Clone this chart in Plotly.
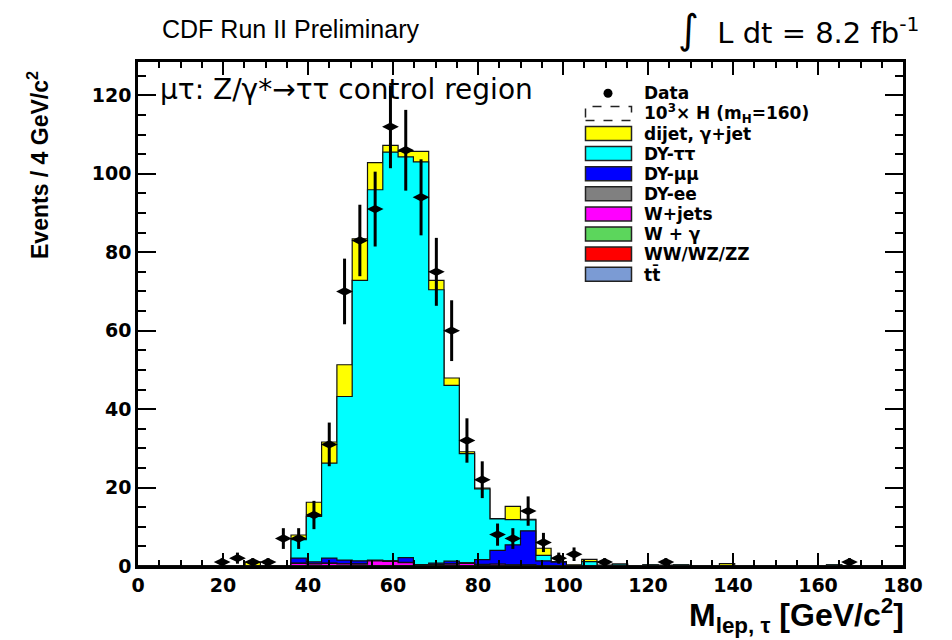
import numpy as np
import plotly.graph_objects as go

# ---------------- data (50 bins, 0-180 GeV) ----------------
n_bins = 50
x_min, x_max = 0.0, 180.0

data_obs = [0, 0, 0, 0, 0, 1, 2, 1, 1, 7,
            7, 13, 31, 70, 83, 91, 112, 106, 94, 75,
            60, 32, 22, 8, 7, 14, 6, 2, 3, 0,
            1, 0, 0, 0, 1, 0, 0, 0, 0, 0,
            0, 0, 0, 0, 0, 0, 1, 0, 0, 0]

dijet = [0, 0, 0, 0, 0, 0, 0, 1.0, 0, 0,
         1.2, 3.6, 5.4, 8.1, 10.6, 6.9, 1.7, 1.4, 2.7, 2.4,
         1.9, 0.5, 0.2, 0.1, 3.4, 0.1, 1.8, 0, 0.3, 0.6,
         0.2, 0, 0, 0, 0.2, 0, 0, 0, 0.6, 0,
         0.1, 0, 0, 0, 0, 0, 0, 0, 0, 0]

dy_tautau = [0, 0, 0, 0, 0, 0, 0, 0, 0, 0,
             4.7, 11.6, 24.2, 41.7, 71.5, 94.4, 104.2, 102.2, 102.7, 69.7,
             44.8, 27.8, 18.0, 8.0, 6.4, 2.8, 1.4, 0.1, 0, 1.1,
             0, 0.5, 0, 0.3, 0, 0.3, 0, 0, 0, 0,
             0, 0, 0, 0, 0, 0.3, 0, 0, 0, 0]

dy_mumu = [0, 0, 0, 0, 0, 0, 0, 0, 0, 0,
           1.3, 0.45, 1.3, 0.9, 0.8, 0.2, 0.1, 1.2, 0.1, 0.3,
           0.7, 0.1, 1.2, 3.5, 5.1, 8.7, 1.2, 1.0, 0, 0,
           0, 0, 0, 0, 0, 0, 0, 0, 0, 0,
           0, 0, 0, 0, 0, 0, 0, 0, 0, 0]

dy_ee = [0, 0, 0, 0, 0, 0, 0, 0, 0, 0,
         0.05, 0.05, 0.05, 0.05, 0.05, 0.05, 0.05, 0.05, 0.05, 0.05,
         0.05, 0.05, 0.05, 0.05, 0.05, 0.05, 0, 0, 0, 0,
         0, 0, 0, 0, 0, 0, 0, 0, 0, 0,
         0, 0, 0, 0, 0, 0, 0, 0, 0, 0]

w_jets = [0, 0, 0, 0, 0, 0, 0, 0, 0, 0,
          0.6, 0.5, 0.6, 0.5, 0.4, 1.2, 1.1, 0.8, 0.1, 0.3,
          0.4, 0.6, 0.3, 0.4, 0.2, 0.2, 0.1, 0, 0, 0,
          0, 0, 0, 0, 0, 0, 0, 0, 0, 0,
          0, 0, 0, 0, 0, 0, 0, 0, 0, 0]

w_gamma = [0, 0, 0, 0, 0, 0, 0, 0, 0, 0,
           0.03, 0.03, 0.03, 0.03, 0.03, 0.03, 0.03, 0.03, 0.03, 0.03,
           0.03, 0.03, 0.03, 0, 0, 0, 0, 0, 0, 0,
           0, 0, 0, 0, 0, 0, 0, 0, 0, 0,
           0, 0, 0, 0, 0, 0, 0, 0, 0, 0]

diboson = [0, 0, 0, 0, 0, 0, 0, 0, 0, 0,
           0.03, 0.03, 0.03, 0.03, 0.03, 0.03, 0.03, 0.03, 0.03, 0.03,
           0.03, 0.03, 0.03, 0.03, 0.03, 0.03, 0.03, 0, 0, 0,
           0, 0, 0, 0, 0, 0, 0, 0, 0, 0,
           0, 0, 0, 0, 0, 0, 0, 0, 0, 0]

ttbar = [0, 0, 0, 0, 0, 0, 0, 0, 0, 0,
         0, 0, 0, 0, 0.02, 0.02, 0.02, 0.02, 0.02, 0.02,
         0.02, 0.02, 0.02, 0.02, 0.02, 0, 0, 0, 0, 0,
         0, 0, 0, 0, 0, 0, 0, 0, 0, 0,
         0, 0, 0, 0, 0, 0, 0, 0, 0, 0]

# stack order: bottom -> top
stack_names = ["tt̄", "WW/WZ/ZZ", "W + γ", "W+jets", "DY-ee", "DY-μμ", "DY-ττ", "dijet, γ+jet"]
stack_vals = [ttbar, diboson, w_gamma, w_jets, dy_ee, dy_mumu, dy_tautau, dijet]
stack_colors = ["#7b9bd4", "#ff0000", "#5cd65c", "#ff00ff", "#808080", "#0000ff", "#00ffff", "#ffff00"]

legend_labels = ["Data", "10<sup>3</sup>× H (m<sub>H</sub>=160)", "dijet, γ+jet", "DY-ττ", "DY-μμ",
                 "DY-ee", "W+jets", "W + γ", "WW/WZ/ZZ", "tt̄"]
legend_colors = [None, "white", "#ffff00", "#00ffff", "#0000ff", "#808080", "#ff00ff",
                 "#5cd65c", "#ff0000", "#7b9bd4"]

x_ticks = [0, 20, 40, 60, 80, 100, 120, 140, 160, 180]
y_ticks = [0, 20, 40, 60, 80, 100, 120]

# ---------------- figure ----------------
W, H = 952, 640
L, R, T, B = 138, 903, 62, 566

edges = np.linspace(x_min, x_max, n_bins + 1)
centers = 0.5 * (edges[:-1] + edges[1:])
cum = np.cumsum(np.array(stack_vals, dtype=float), axis=0)

fig = go.Figure()
for i in range(len(stack_vals) - 1, -1, -1):
    yv = np.append(cum[i], cum[i][-1])
    fig.add_trace(go.Scatter(x=edges, y=yv, mode="lines", line=dict(shape="hv", color="#111111", width=1.2),
                             fill="tozeroy", fillcolor=stack_colors[i], hoverinfo="skip", showlegend=False))

d = np.array(data_obs, dtype=float)
mask = d > 0
fig.add_trace(go.Scatter(x=centers[mask], y=d[mask], mode="markers",
                         marker=dict(symbol="diamond-wide", size=12, color="black"),
                         error_y=dict(type="data", array=np.sqrt(d[mask]), thickness=3, width=0, color="black"),
                         showlegend=False, hoverinfo="skip"))

def px(xp):
    return (xp - L) / (R - L)

def py(yp):
    return (B - yp) / (B - T)

shapes = []
ann = []
# legend
row0, drow = 93.3, 20.1
for i, lab in enumerate(legend_labels):
    yc = row0 + drow * i
    if i == 0:
        fig.add_trace(go.Scatter(x=[px(608)], y=[py(yc)], xaxis="x2", yaxis="y2", mode="markers",
                                 marker=dict(symbol="circle", size=9, color="black"),
                                 showlegend=False, hoverinfo="skip"))
    else:
        shapes.append(dict(type="rect", xref="paper", yref="paper", x0=px(585.5), x1=px(631.5),
                           y0=py(yc + 7), y1=py(yc - 7), fillcolor=legend_colors[i],
                           line=dict(color="#222222", width=1.5, dash="dash" if i == 1 else "solid")))
    ann.append(dict(x=px(642), y=py(yc), xref="paper", yref="paper", text="<b>" + lab + "</b>",
                    showarrow=False, xanchor="left", yanchor="middle",
                    font=dict(family="DejaVu Sans", size=17, color="black")))

ann.append(dict(x=px(158), y=py(89), xref="paper", yref="paper", text="μτ: Z/γ*→ττ control region",
                showarrow=False, xanchor="left", yanchor="middle",
                font=dict(family="DejaVu Sans", size=28, color="black")))
ann.append(dict(x=px(290), y=py(29), xref="paper", yref="paper", text="CDF Run II Preliminary",
                showarrow=False, xanchor="center", yanchor="middle",
                font=dict(family="Liberation Sans", size=25, color="black")))
ann.append(dict(x=px(676), y=py(29), xref="paper", yref="paper",
                text="<span style='font-size:40px'>∫</span>  L dt = 8.2 fb<sup>-1</sup>",
                showarrow=False, xanchor="left", yanchor="middle",
                font=dict(family="DejaVu Sans", size=29, color="black")))
ann.append(dict(x=px(906), y=py(615), xref="paper", yref="paper",
                text="<b>M<sub>lep, τ</sub> [GeV/c<sup>2</sup>]</b>",
                showarrow=False, xanchor="right", yanchor="middle",
                font=dict(family="Liberation Sans", size=32, color="black")))
ann.append(dict(x=px(38), y=py(165), xref="paper", yref="paper",
                text="<b>Events / 4 GeV/c<sup>2</sup></b>", textangle=-90,
                showarrow=False, xanchor="center", yanchor="middle",
                font=dict(family="Liberation Sans", size=23, color="black")))

axis_common = dict(showline=True, linecolor="black", linewidth=2.5, mirror="allticks",
                   ticks="inside", tickcolor="black", tickwidth=1.5, showgrid=False, zeroline=False,
                   tickfont=dict(family="DejaVu Sans", size=19, color="black", weight="bold"))

fig.update_layout(
    width=W, height=H,
    margin=dict(l=L, r=W - R, t=T, b=H - B),
    paper_bgcolor="white", plot_bgcolor="white",
    showlegend=False,
    xaxis=dict(range=[x_min, x_max], tickvals=x_ticks, ticklen=13,
               minor=dict(dtick=5, ticklen=6, ticks="inside", tickcolor="black", tickwidth=1.5),
               **axis_common),
    yaxis=dict(range=[0, 128.5], tickvals=y_ticks, ticklen=18,
               minor=dict(dtick=5, ticklen=8, ticks="inside", tickcolor="black", tickwidth=1.5),
               **axis_common),
    xaxis2=dict(range=[0, 1], overlaying="x", visible=False),
    yaxis2=dict(range=[0, 1], overlaying="y", visible=False),
    shapes=shapes, annotations=ann,
)

fig.write_html("out.html", config={"displayModeBar": False},
               post_script="document.body.style.margin='0px';")
